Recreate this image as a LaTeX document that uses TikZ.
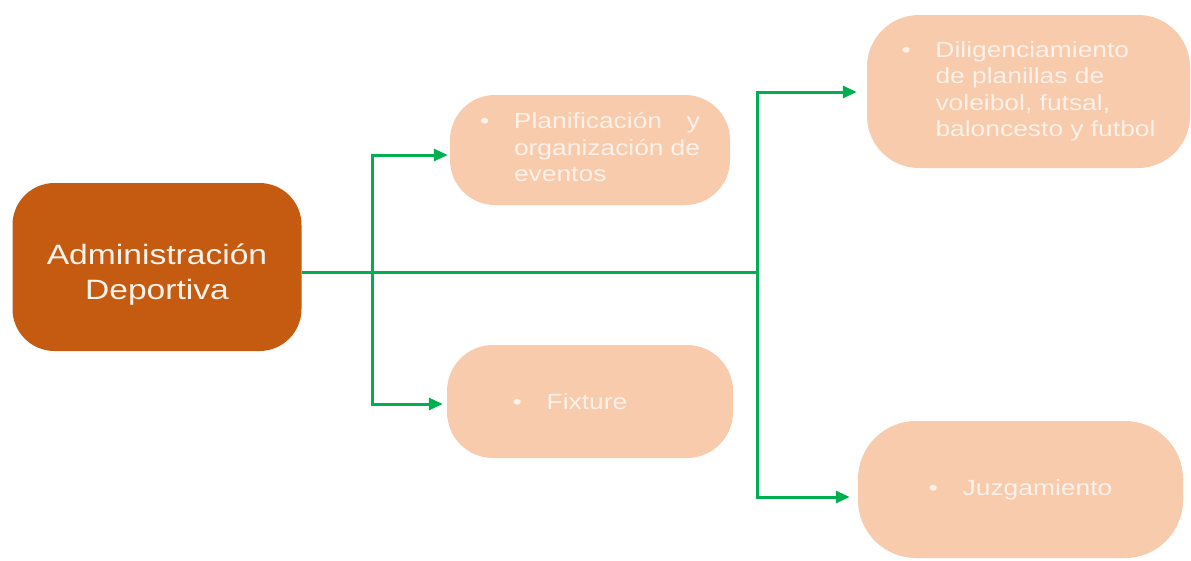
\documentclass[tikz,border=0pt]{standalone}
\usepackage{fontspec}
\setmainfont{Liberation Sans}
\newfontfamily\widesans[FakeStretch=1.2]{Liberation Sans}
\usetikzlibrary{arrows.meta}

\definecolor{rust}{HTML}{C55A11}
\definecolor{peach}{HTML}{F7CBAC}
\definecolor{leaf}{HTML}{00B050}
\definecolor{paleink}{HTML}{FDF1E9}
\definecolor{admink}{HTML}{FCF3EC}

% bullet followed by the gap before the item text
\newcommand{\itembullet}{\makebox[34pt][l]{\textbullet}}

\begin{document}
\begin{tikzpicture}[x=1pt,y=-1pt,
  card/.style={fill=peach, draw=none, text=paleink, inner sep=0pt,
               font=\widesans\fontsize{22}{26.5}\selectfont},
  headcard/.style={fill=rust, draw=none, text=admink, inner sep=0pt,
               font=\widesans\fontsize{28}{35}\selectfont},
  conn/.style={draw=leaf, line width=3pt},
  tip/.style={-{Triangle[length=14pt,width=12pt]}}]

\useasboundingbox (0,0) rectangle (1191,560);

% main block (title set slightly below the box centre)
\node[headcard, rounded corners=42pt, minimum width=289pt, minimum height=168pt]
  (adm) at (157,267)
  {\raisebox{-8pt}[\height][\depth]{\begin{tabular}{@{}c@{}}Administración\\Deportiva\end{tabular}}};

% activity cards
\node[card, rounded corners=45pt, minimum width=280pt, minimum height=110pt]
  (plan) at (590,150)
  {\begin{tabular}{@{}p{34pt}@{}p{186pt}@{}}
   \textbullet & Planificación\hfill y\newline organización de\newline eventos
   \end{tabular}};

\node[card, rounded corners=46pt, minimum width=286pt, minimum height=113pt]
  (fix) at (590,401.5) {\itembullet Fixture\hspace*{40pt}};

\node[card, rounded corners=52pt, minimum width=323pt, minimum height=153pt]
  (dil) at (1028.5,91.5)
  {\begin{tabular}{@{}p{34pt}@{}p{220pt}@{}}
   \textbullet & Diligenciamiento\newline de planillas de\newline voleibol, futsal,\newline baloncesto y futbol
   \end{tabular}};

\node[card, rounded corners=58pt, minimum width=325pt, minimum height=137pt]
  (juz) at (1020.5,489.5) {\itembullet Juzgamiento};

% bus junctions and branch corners
\coordinate (bus) at (757,272);
\coordinate (jl)  at (372,272);
\coordinate (lt)  at (372,155);
\coordinate (lb)  at (372,404);
\coordinate (rt)  at (757,92);
\coordinate (rb)  at (757,497);

% connectors
\draw[conn] (adm.east |- bus) -- (bus);
\draw[conn, tip, shorten >=2pt]  (jl) -- (lt) -- (plan.west |- lt);
\draw[conn, tip, shorten >=4pt]  (jl) -- (lb) -- (fix.west |- lb);
\draw[conn, tip, shorten >=10pt] (bus) -- (rt) -- (dil.west |- rt);
\draw[conn, tip, shorten >=8pt]  (bus) -- (rb) -- (juz.west |- rb);

\end{tikzpicture}
\end{document}
